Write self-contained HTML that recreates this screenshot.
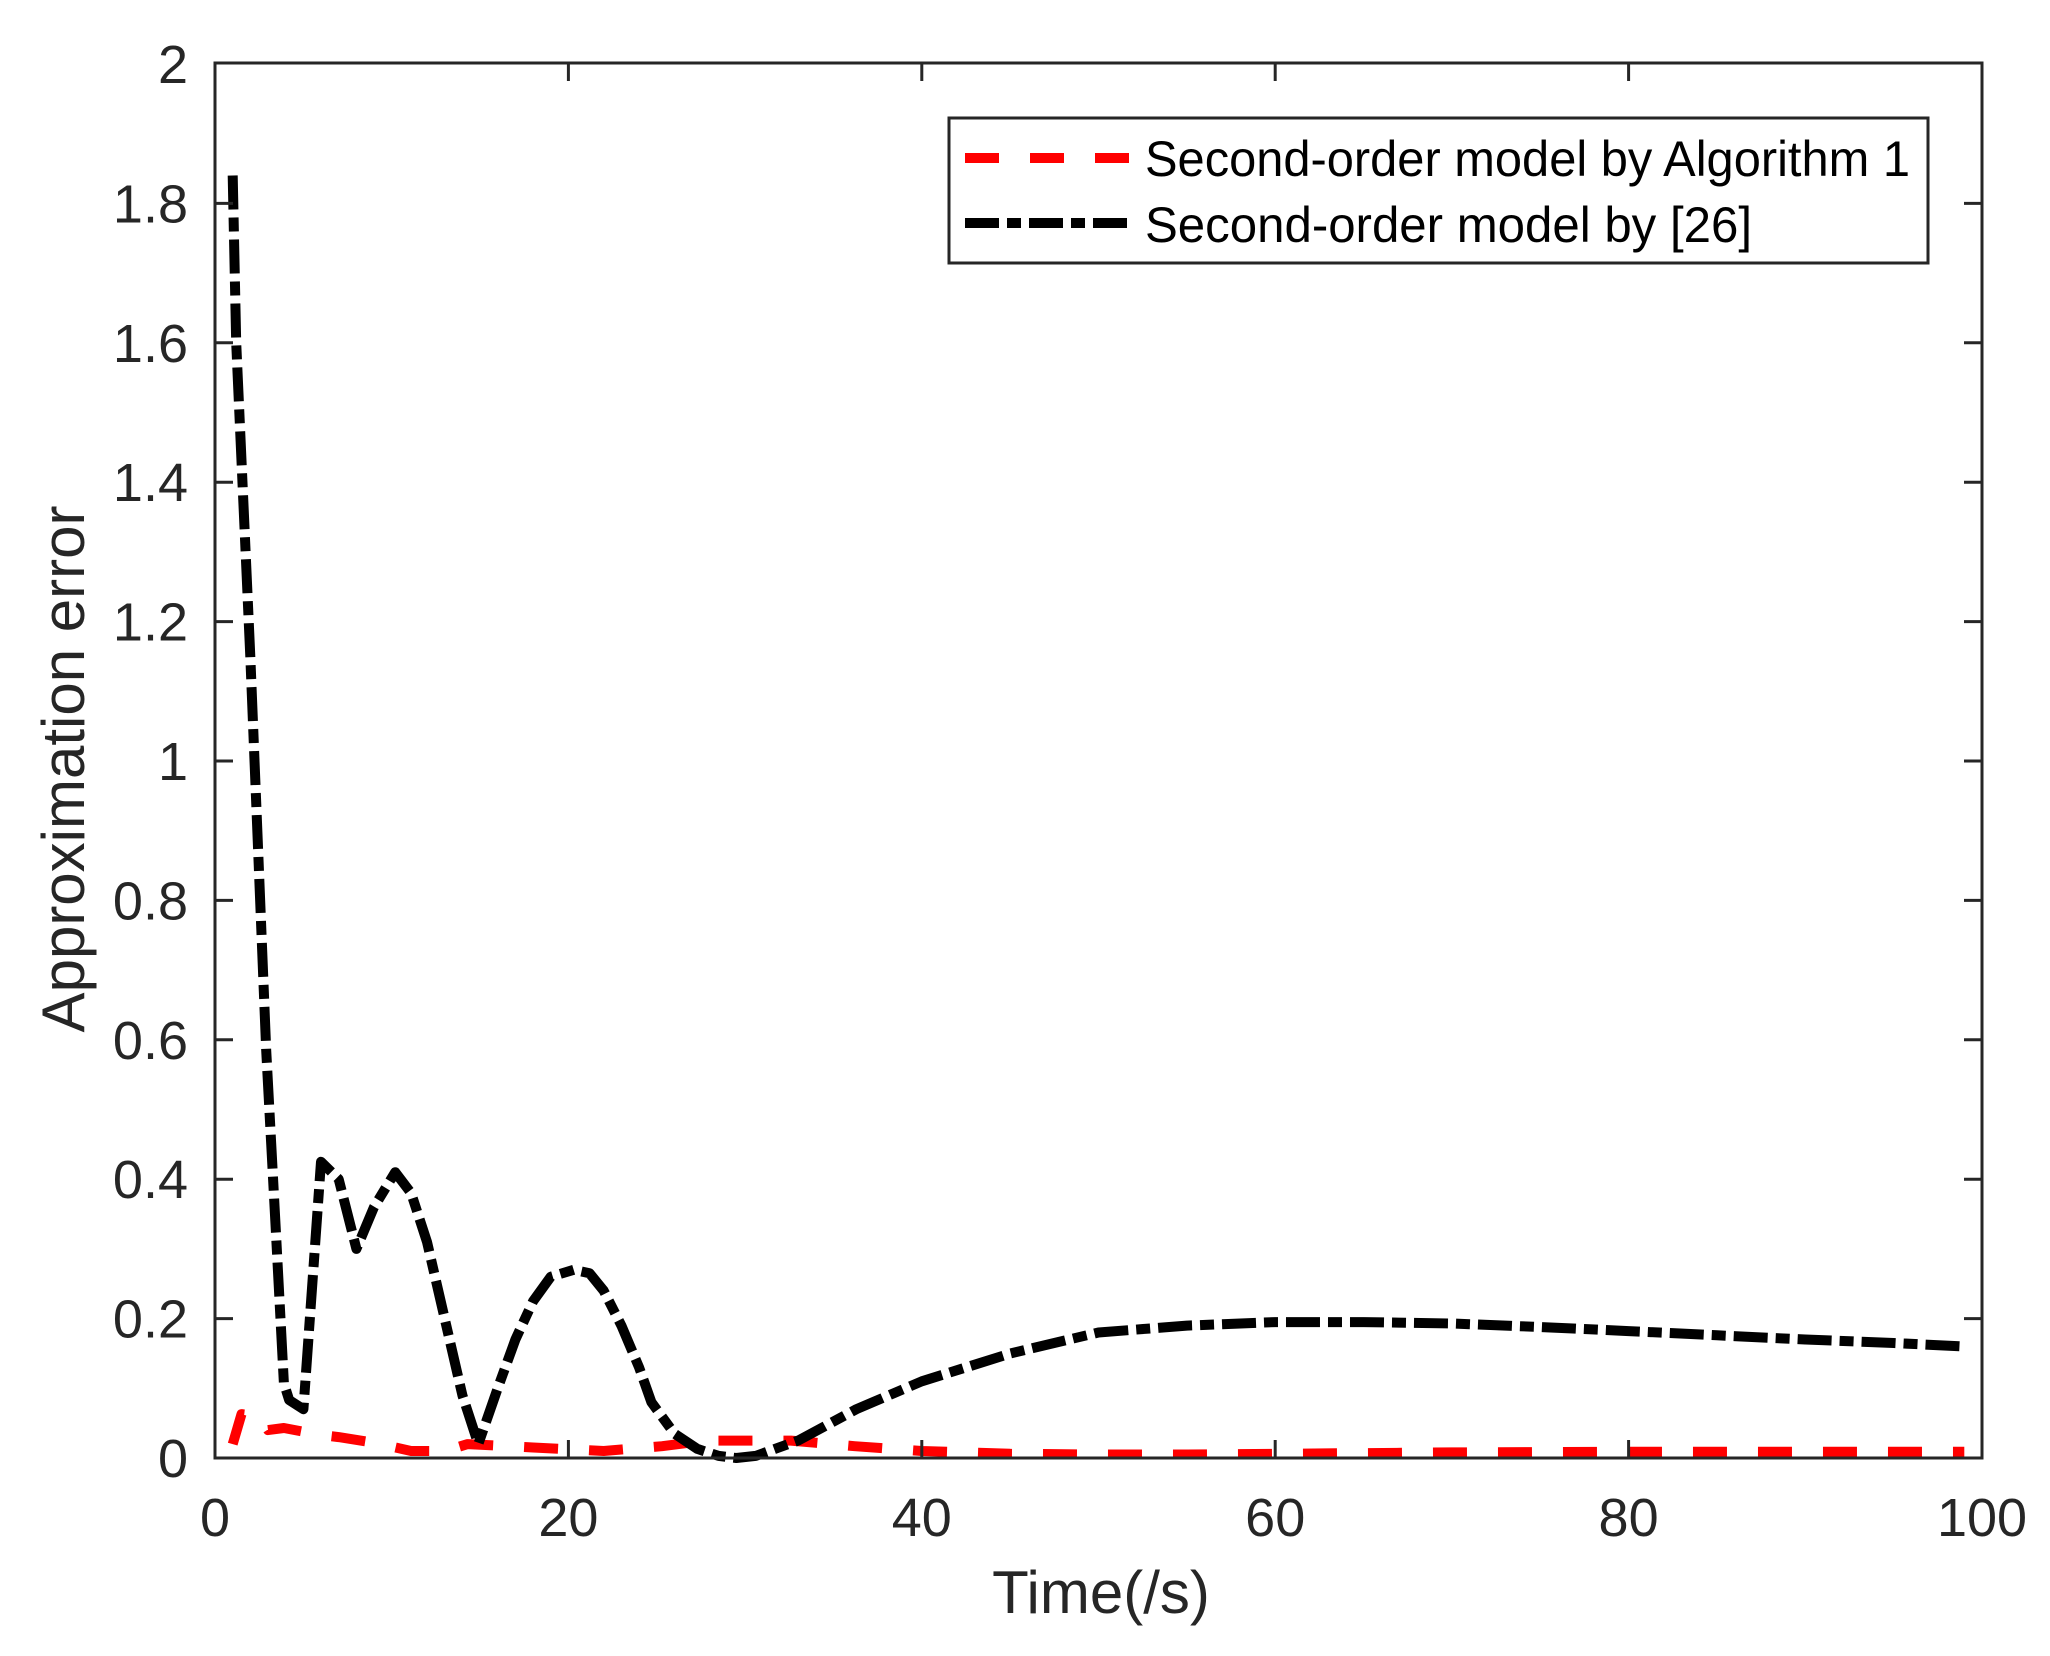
<!DOCTYPE html>
<html><head><meta charset="utf-8"><style>html,body{margin:0;padding:0;background:#fff}svg{display:block}</style></head>
<body>
<svg width="2050" height="1656" viewBox="0 0 2050 1656" xmlns="http://www.w3.org/2000/svg" font-family="Liberation Sans, sans-serif">
<rect width="2050" height="1656" fill="#fff"/>
<g id="curves" fill="none" stroke-linejoin="round"></g>
<rect x="215" y="63" width="1767" height="1395" fill="none" stroke="#262626" stroke-width="3"/>
<g stroke="#262626" stroke-width="3">
<line x1="215" y1="1458" x2="215" y2="1440"/><line x1="215" y1="63" x2="215" y2="81"/>
<line x1="568.4" y1="1458" x2="568.4" y2="1440"/><line x1="568.4" y1="63" x2="568.4" y2="81"/>
<line x1="921.8" y1="1458" x2="921.8" y2="1440"/><line x1="921.8" y1="63" x2="921.8" y2="81"/>
<line x1="1275.2" y1="1458" x2="1275.2" y2="1440"/><line x1="1275.2" y1="63" x2="1275.2" y2="81"/>
<line x1="1628.6" y1="1458" x2="1628.6" y2="1440"/><line x1="1628.6" y1="63" x2="1628.6" y2="81"/>
<line x1="215" y1="1318.6" x2="233" y2="1318.6"/><line x1="1982" y1="1318.6" x2="1964" y2="1318.6"/>
<line x1="215" y1="1179.2" x2="233" y2="1179.2"/><line x1="1982" y1="1179.2" x2="1964" y2="1179.2"/>
<line x1="215" y1="1039.8" x2="233" y2="1039.8"/><line x1="1982" y1="1039.8" x2="1964" y2="1039.8"/>
<line x1="215" y1="900.4" x2="233" y2="900.4"/><line x1="1982" y1="900.4" x2="1964" y2="900.4"/>
<line x1="215" y1="761" x2="233" y2="761"/><line x1="1982" y1="761" x2="1964" y2="761"/>
<line x1="215" y1="621.6" x2="233" y2="621.6"/><line x1="1982" y1="621.6" x2="1964" y2="621.6"/>
<line x1="215" y1="482.2" x2="233" y2="482.2"/><line x1="1982" y1="482.2" x2="1964" y2="482.2"/>
<line x1="215" y1="342.8" x2="233" y2="342.8"/><line x1="1982" y1="342.8" x2="1964" y2="342.8"/>
<line x1="215" y1="203.4" x2="233" y2="203.4"/><line x1="1982" y1="203.4" x2="1964" y2="203.4"/>
</g>
<g fill="#262626" font-size="54">
<text x="215" y="1536" text-anchor="middle">0</text>
<text x="568.4" y="1536" text-anchor="middle">20</text>
<text x="921.8" y="1536" text-anchor="middle">40</text>
<text x="1275.2" y="1536" text-anchor="middle">60</text>
<text x="1628.6" y="1536" text-anchor="middle">80</text>
<text x="1982" y="1536" text-anchor="middle">100</text>
<g text-anchor="end">
<text x="188" y="1477">0</text>
<text x="188" y="1337.6">0.2</text>
<text x="188" y="1198.2">0.4</text>
<text x="188" y="1058.8">0.6</text>
<text x="188" y="919.4">0.8</text>
<text x="188" y="780">1</text>
<text x="188" y="640.6">1.2</text>
<text x="188" y="501.2">1.4</text>
<text x="188" y="361.8">1.6</text>
<text x="188" y="222.4">1.8</text>
<text x="188" y="83">2</text>
</g>
</g>
<text x="1101" y="1613" font-size="60" fill="#262626" text-anchor="middle">Time(/s)</text>
<text transform="translate(84,769) rotate(-90)" font-size="60" fill="#262626" text-anchor="middle">Approximation error</text>
<rect x="949" y="118" width="979" height="145" fill="#fff" stroke="#262626" stroke-width="3"/>
<line x1="965" y1="158" x2="1129" y2="158" stroke="#f00" stroke-width="10" stroke-dasharray="34,31"/>
<line x1="965" y1="223" x2="1129" y2="223" stroke="#000" stroke-width="10" stroke-dasharray="34,8,14,8"/>
<text x="1145" y="176" font-size="50" fill="#000" textLength="765" lengthAdjust="spacingAndGlyphs">Second-order model by Algorithm 1</text>
<text x="1145" y="242" font-size="50" fill="#000" textLength="607" lengthAdjust="spacingAndGlyphs">Second-order model by [26]</text>
<script>
const X=t=>215+17.67*t, Y=v=>1458-697*v;
const blk=[[1,1.84],[1.2,1.6],[2,1.15],[2.9,0.585],[3.4,0.346],[3.9,0.107],[4.2,0.083],[5,0.07],[6,0.425],[7,0.40],[8,0.30],[9,0.36],[10.2,0.41],[11.1,0.38],[12,0.31],[13,0.20],[14,0.09],[14.9,0.02],[16,0.1],[17,0.17],[18,0.225],[19,0.26],[20.3,0.27],[21.2,0.265],[22,0.24],[23,0.19],[24,0.13],[24.7,0.08],[26,0.035],[27.3,0.013],[28.5,0.003],[29.5,0],[30.6,0.003],[33,0.025],[36.3,0.07],[40,0.11],[45,0.15],[50,0.18],[55,0.19],[60,0.195],[65,0.195],[70,0.193],[75,0.188],[80,0.182],[85,0.176],[90,0.17],[95,0.165],[99,0.16]];
const red=[[1,0.02],[1.5,0.063],[2.5,0.06],[3,0.04],[3.9,0.043],[6,0.033],[7,0.03],[9,0.022],[11.1,0.01],[13,0.01],[14.3,0.02],[18,0.015],[22,0.01],[25.3,0.017],[27.8,0.025],[32.6,0.025],[36.2,0.017],[40,0.01],[45,0.006],[50,0.005],[55,0.005],[60,0.006],[70,0.008],[80,0.009],[99,0.009]];
const pts=a=>a.map(p=>X(p[0]).toFixed(1)+','+Y(p[1]).toFixed(1)).join(' ');
const ns='http://www.w3.org/2000/svg';
const c=document.getElementById('curves');
function pl(a,col,da){const e=document.createElementNS(ns,'polyline');e.setAttribute('points',pts(a));e.setAttribute('stroke',col);e.setAttribute('stroke-width','10');e.setAttribute('stroke-dasharray',da);c.appendChild(e);}
pl(red,'#f00','34,31');pl(blk,'#000','34,8,14,8');
</script>
</svg>
</body></html>
